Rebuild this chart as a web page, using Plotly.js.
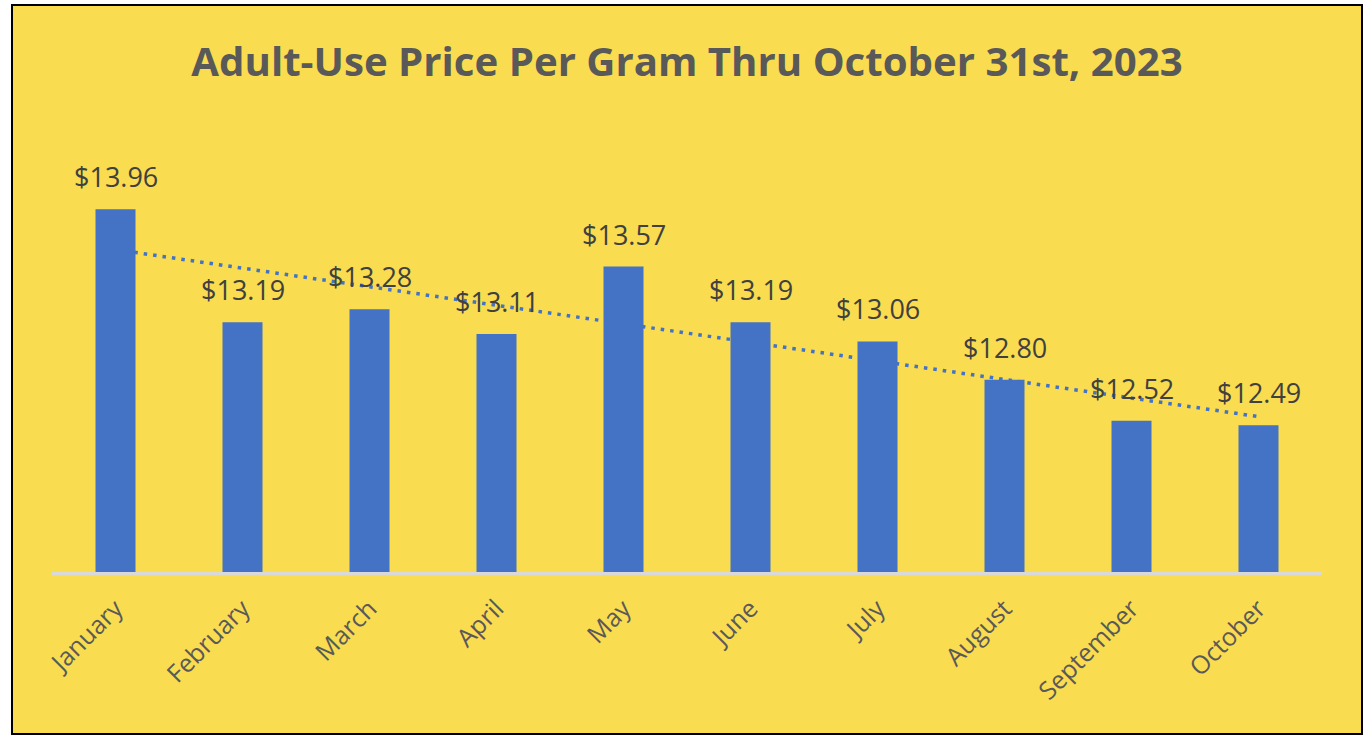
<!DOCTYPE html>
<html>
<head>
<meta charset="utf-8">
<script src="https://cdn.plot.ly/plotly-3.0.1.min.js"></script>
<style>
  html, body { margin: 0; padding: 0; background: #ffffff; }
  #chart { position: absolute; left: 11px; top: 4px; width: 1348px; height: 727px; border: 2px solid #000; }
</style>
</head>
<body>
<div id="chart"></div>
<script>
const months = ["January","February","March","April","May","June","July","August","September","October"];
const prices = [13.96, 13.19, 13.28, 13.11, 13.57, 13.19, 13.06, 12.80, 12.52, 12.49];
const labels = ["$13.96","$13.19","$13.28","$13.11","$13.57","$13.19","$13.06","$12.80","$12.52","$12.49"];

// Linear trendline (least squares over month index), as Excel draws it
const n = prices.length;
const xs = prices.map((_, i) => i + 1);
const mx = xs.reduce((a, b) => a + b, 0) / n;
const my = prices.reduce((a, b) => a + b, 0) / n;
let sxy = 0, sxx = 0;
for (let i = 0; i < n; i++) { sxy += (xs[i] - mx) * (prices[i] - my); sxx += (xs[i] - mx) ** 2; }
const slope = sxy / sxx;
const trend = xs.map(x => my + slope * (x - mx));

const bars = {
  type: 'bar', x: months, y: prices,
  marker: { color: '#4472C4' },
  width: 0.315,
  hoverinfo: 'skip'
};
const trendLine = {
  type: 'scatter', mode: 'lines', x: months, y: trend,
  line: { color: '#4472C4', width: 3.5, dash: '3.5px,6px' },
  hoverinfo: 'skip'
};

const annotations = months.map((m, i) => ({
  x: m, y: prices[i], xref: 'x', yref: 'y',
  text: labels[i], showarrow: false,
  yanchor: 'bottom', yshift: 12,
  font: { family: 'Open Sans, sans-serif', size: 27, color: '#404040' }
}));

const layout = {
  width: 1348, height: 727,
  paper_bgcolor: '#F9DC4F', plot_bgcolor: 'rgba(0,0,0,0)',
  margin: { l: 39, r: 39, t: 124, b: 161 },
  showlegend: false,
  title: {
    text: '<b>Adult-Use Price Per Gram Thru October 31st, 2023</b>',
    font: { family: 'Open Sans, sans-serif', size: 40.2, color: '#595959' },
    x: 0.5, xanchor: 'center', y: 0.923, yanchor: 'middle'
  },
  xaxis: {
    type: 'category', showgrid: false, zeroline: false,
    showline: true, linecolor: '#D9D9D9', linewidth: 3,
    ticks: '', tickangle: -45, ticklabelstandoff: 9,
    tickfont: { family: 'Open Sans, sans-serif', size: 25, color: '#595959' }
  },
  yaxis: {
    range: [11.49, 14.5], visible: false, showgrid: false, zeroline: false, fixedrange: true
  },
  annotations: annotations
};

Plotly.newPlot('chart', [bars, trendLine], layout, { displayModeBar: false, staticPlot: true });
</script>
</body>
</html>
